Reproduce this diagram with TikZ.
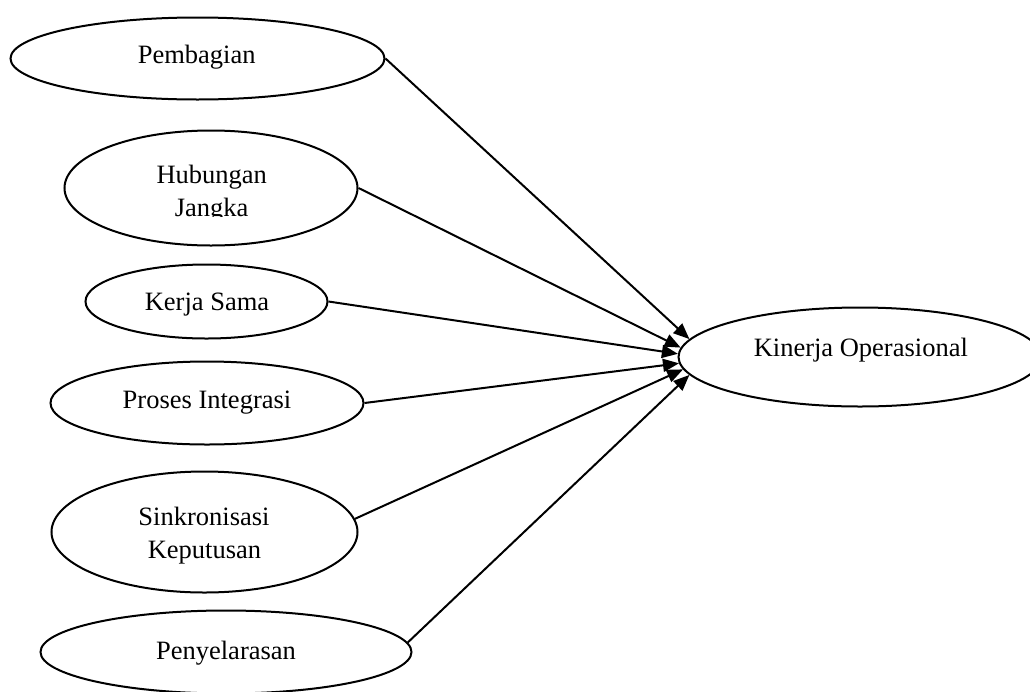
\documentclass[tikz,border=0pt]{standalone}
\usepackage{fontspec}
\setmainfont{Liberation Serif}
\usetikzlibrary{shapes.geometric,arrows.meta}
\begin{document}
\begin{tikzpicture}[x=1pt,y=-1pt,
  oval/.style={draw=black, line width=2pt, ellipse, inner sep=0pt},
  lbl/.style={anchor=base, inner sep=0pt, font=\fontsize{26.5}{32}\selectfont},
  link/.style={draw=black, line width=2pt, -{Triangle[length=16pt,width=13pt]}}]
\useasboundingbox (0,0) rectangle (1030,691);
\clip (0,0) rectangle (1030,691);
\fill[white] (0,0) rectangle (1030,691);
% ellipses
\node[oval, minimum width=374pt, minimum height=82pt] (pem) at (197.5,58.5) {};
\node[oval, minimum width=293pt, minimum height=115pt] (hub) at (211,188) {};
\node[oval, minimum width=242pt, minimum height=74pt] (ker) at (206.5,301.5) {};
\node[oval, minimum width=313pt, minimum height=83pt] (pro) at (207,403) {};
\node[oval, minimum width=306pt, minimum height=121pt] (sin) at (204.5,532) {};
\node[oval, minimum width=371pt, minimum height=83pt] (pen) at (226,652) {};
\node[oval, minimum width=363pt, minimum height=99pt] (kin) at (860,357) {};
% labels
\node[lbl] (pemt) at (196.7,63) {Pembagian};
\node[lbl] (hubt) at (211.7,183) {Hubungan};
\begin{scope}
\clip (100,150) rectangle (330,216);
\node[lbl] (hubt2) at (211.7,216) {Jangka};
\end{scope}
\node[lbl] (kert) at (207,310) {Kerja Sama};
\node[lbl] (prot) at (207,408) {Proses Integrasi};
\node[lbl] (sint) at (204,525) {Sinkronisasi};
\node[lbl] (sint2) at (204.5,558) {Keputusan};
\node[lbl] (pent) at (226,659) {Penyelarasan};
\node[lbl] (kint) at (860.8,356) {Kinerja Operasional};
% connectors
\draw[link] (pem.east) -- (kin.174);
\draw[link] (hub.east) -- (kin.177);
\draw[link] (ker.east) -- (kin.179);
\draw[link] (pro.east) -- (kin.182);
\draw[link] (sin.5) -- (kin.184);
\draw[link] (pen.3) -- (kin.186);
\end{tikzpicture}
\end{document}
